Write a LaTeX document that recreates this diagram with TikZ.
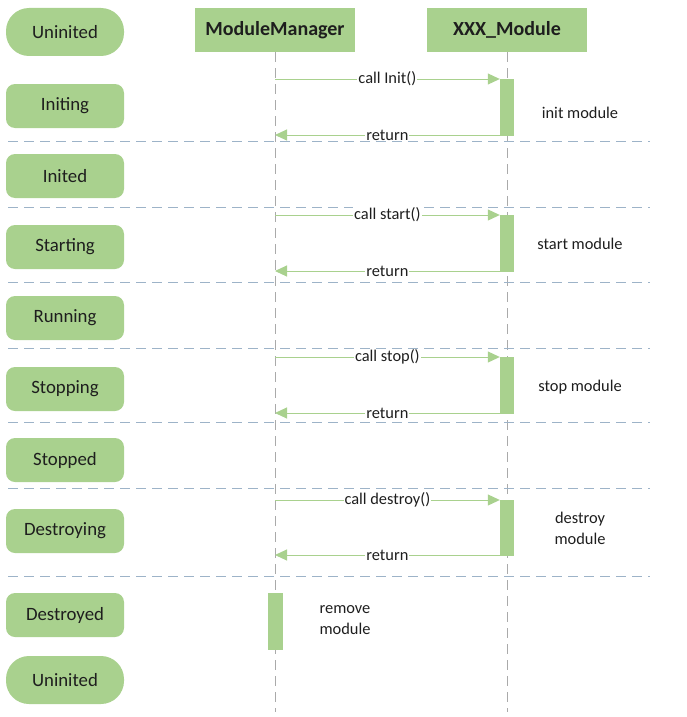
\documentclass[tikz,border=0pt]{standalone}
\usepackage{fontspec}
\setmainfont{Carlito}
\usetikzlibrary{arrows.meta}
\definecolor{grn}{HTML}{A9D18E}
\definecolor{sepc}{HTML}{9DB3C8}
\definecolor{lifec}{HTML}{AAAAAA}
\definecolor{txt}{HTML}{1E1E1E}
\begin{document}
\begin{tikzpicture}[x=1pt,y=-1pt,
 state/.style={fill=grn, rounded corners=9pt, minimum width=118pt, minimum height=44pt, text=txt, font=\fontsize{18.8}{22}\selectfont},
 term/.style={state, rounded corners=23pt, minimum height=48pt},
 head/.style={fill=grn, minimum width=160pt, minimum height=44pt, font=\bfseries\fontsize{20}{23}\selectfont, text=txt},
 lifeline/.style={draw=lifec, dash pattern=on 10pt off 6pt, line width=0.8pt},
 sepline/.style={draw=sepc, dash pattern=on 10pt off 6pt, line width=1pt},
 msg/.style={draw=grn, line width=1pt, -{Triangle[length=12pt,width=11pt]}},
 lbl/.style={fill=white, inner sep=1pt, text=txt, font=\fontsize{16.4}{19}\selectfont},
 note/.style={text=txt, font=\fontsize{16.4}{21}\selectfont, align=center},
 act/.style={fill=grn, minimum width=14pt, inner sep=0pt, anchor=north}
]
\useasboundingbox (0,0) rectangle (687,717);
% headers
\node[head] (mm) at (275,30) {ModuleManager};
\node[head] (xm) at (507,30) {XXX\_Module};
\coordinate (mmend) at (275,712);
\coordinate (xmend) at (507,712);
\draw[lifeline] (mm.south) -- (mmend);
\draw[lifeline] (xm.south) -- (xmend);
% states
\node[term]  (s0) at (65,32) {Uninited};
\node[state] (s1) at (65,106) {Initing};
\node[state] (s2) at (65,176) {Inited};
\node[state] (s3) at (65,247) {Starting};
\node[state] (s4) at (65,318) {Running};
\node[state] (s5) at (65,389) {Stopping};
\node[state] (s6) at (65,460) {Stopped};
\node[state] (s7) at (65,531) {Destroying};
\node[state] (s8) at (65,615) {Destroyed};
\node[term]  (s9) at (65,680) {Uninited};
% separators
\foreach \y/\n in {141/a,207/b,282/c,348/d,422/e,488/f,576/g}{
  \coordinate (L\n) at (8,\y);
  \coordinate (R\n) at (650,\y);
  \draw[sepline] (L\n) -- (R\n);
}
% activation bars
\node[act, minimum height=57pt] (a1) at (507,79) {};
\node[act, minimum height=57pt] (a2) at (507,215) {};
\node[act, minimum height=57pt] (a3) at (507,357) {};
\node[act, minimum height=56pt] (a4) at (507,500) {};
\node[act, minimum height=57pt, minimum width=15pt] (a5) at (275,593) {};
% messages
\foreach \i/\yc/\yr/\t in {1/79/135/call Init(),2/215/271/call start(),3/357/413/call stop(),4/500/555/call destroy()}{
  \coordinate (c\i) at (275,\yc);
  \coordinate (r\i) at (275,\yr);
  \draw[msg] (c\i) -- node[lbl]{\t} (a\i.west |- c\i);
  \draw[msg] (a\i.west |- r\i) -- node[lbl]{return} (r\i);
}
% notes
\node[note] (n1) at (580,113) {init module};
\node[note] (n2) at (580,244) {start module};
\node[note] (n3) at (580,387) {stop module};
\node[note] (n4) at (580,528) {destroy\\module};
\node[note] (n5) at (345,620) {remove\\module};
\end{tikzpicture}
\end{document}
